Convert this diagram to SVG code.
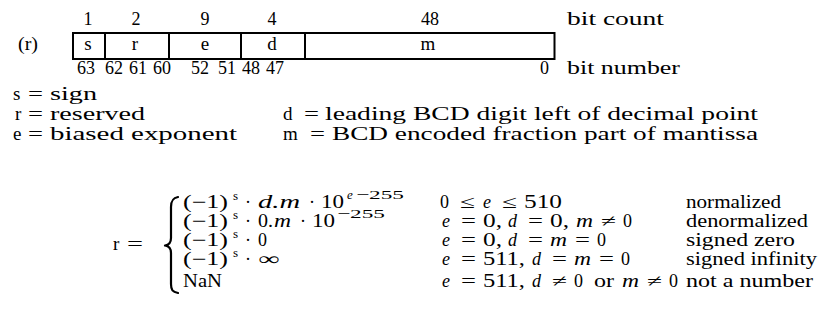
<svg xmlns="http://www.w3.org/2000/svg" width="820" height="324" viewBox="0 0 820 324">
<style>
text { font-family: "Liberation Serif", "Times New Roman", serif; font-size: 19px; fill: #000; }
.n { font-size: 18px; }
.f { font-size: 18px; }
.c { text-anchor: middle; }
.i { font-style: italic; }
.sup { font-size: 13px; }
.box { fill: none; stroke: #000; stroke-width: 2; }
.brace { fill: none; stroke: #000; stroke-width: 2.2; stroke-linecap: round; stroke-linejoin: round; }
</style>
<rect width="820" height="324" fill="#fff"/>

<g id="bitfield">
  <text class="c n" x="88" y="25">1</text>
  <text class="c n" x="136" y="25">2</text>
  <text class="c n" x="205" y="25">9</text>
  <text class="c n" x="272" y="25">4</text>
  <text class="c n" x="430" y="25">48</text>
  <text x="567" y="25" textLength="97" lengthAdjust="spacingAndGlyphs">bit count</text>

  <text x="18" y="50" textLength="20" lengthAdjust="spacingAndGlyphs">(r)</text>
  <rect class="box" x="73" y="33" width="481.5" height="26"/>
  <line class="box" x1="105" y1="33" x2="105" y2="59"/>
  <line class="box" x1="169" y1="33" x2="169" y2="59"/>
  <line class="box" x1="241" y1="33" x2="241" y2="59"/>
  <line class="box" x1="305" y1="33" x2="305" y2="59"/>
  <text class="c" x="88" y="50">s</text>
  <text class="c" x="135" y="50">r</text>
  <text class="c" x="205" y="50">e</text>
  <text class="c" x="272" y="50">d</text>
  <text class="c" x="428" y="50">m</text>

  <text class="n" x="77" y="74">63</text>
  <text class="n" x="105" y="74">62</text>
  <text class="n" x="129" y="74">61</text>
  <text class="n" x="153" y="74">60</text>
  <text class="n" x="191" y="74">52</text>
  <text class="n" x="218" y="74">51</text>
  <text class="n" x="242" y="74">48</text>
  <text class="n" x="266" y="74">47</text>
  <text class="n" x="540" y="74">0</text>
  <text x="567" y="74" textLength="113" lengthAdjust="spacingAndGlyphs">bit number</text>
</g>

<g id="legend">
  <text x="13" y="100">s</text>
  <text x="28" y="100" textLength="15" lengthAdjust="spacingAndGlyphs">=</text>
  <text x="50" y="100" textLength="47" lengthAdjust="spacingAndGlyphs">sign</text>

  <text x="15" y="120">r</text>
  <text x="28" y="120" textLength="15" lengthAdjust="spacingAndGlyphs">=</text>
  <text x="50" y="120" textLength="95" lengthAdjust="spacingAndGlyphs">reserved</text>

  <text x="13" y="140">e</text>
  <text x="28" y="140" textLength="15" lengthAdjust="spacingAndGlyphs">=</text>
  <text x="50" y="140" textLength="187" lengthAdjust="spacingAndGlyphs">biased exponent</text>

  <text x="283" y="120">d</text>
  <text x="304" y="120" textLength="15" lengthAdjust="spacingAndGlyphs">=</text>
  <text x="325" y="120" textLength="433" lengthAdjust="spacingAndGlyphs">leading BCD digit left of decimal point</text>

  <text x="283" y="140">m</text>
  <text x="310" y="140" textLength="15" lengthAdjust="spacingAndGlyphs">=</text>
  <text x="332" y="140" textLength="426" lengthAdjust="spacingAndGlyphs">BCD encoded fraction part of mantissa</text>
</g>

<g id="formula">
  <text x="113" y="250">r</text>
  <text x="127" y="250" textLength="16" lengthAdjust="spacingAndGlyphs">=</text>
  <path class="brace" d="M178,197 C172.5,198 171,201 171,207 L171,238 C171,243 169,245 165,245.5 C169,246 171,248 171,253 L171,284 C171,290 172.5,292 178,293"/>

  <!-- row 1 -->
  <text class="f" x="183" y="208" textLength="45" lengthAdjust="spacingAndGlyphs">(−1)</text>
  <text class="sup" x="233" y="200">s</text>
  <text class="f" x="245" y="208">·</text>
  <text class="f i" x="258" y="208" textLength="42" lengthAdjust="spacingAndGlyphs">d.m</text>
  <text class="f" x="309" y="208">·</text>
  <text class="f" x="321" y="208" textLength="23" lengthAdjust="spacingAndGlyphs">10</text>
  <text class="sup i" x="347" y="199">e</text>
  <text class="sup" x="356" y="199" textLength="48" lengthAdjust="spacingAndGlyphs">−255</text>
  <text class="f" x="440" y="208">0</text>
  <text class="f" x="460" y="208" textLength="15" lengthAdjust="spacingAndGlyphs">≤</text>
  <text class="f i" x="483" y="208">e</text>
  <text class="f" x="502" y="208" textLength="15" lengthAdjust="spacingAndGlyphs">≤</text>
  <text class="f" x="524" y="208" textLength="38" lengthAdjust="spacingAndGlyphs">510</text>
  <text x="686" y="208" textLength="95" lengthAdjust="spacingAndGlyphs">normalized</text>

  <!-- row 2 -->
  <text class="f" x="183" y="227" textLength="45" lengthAdjust="spacingAndGlyphs">(−1)</text>
  <text class="sup" x="233" y="219">s</text>
  <text class="f" x="245" y="227">·</text>
  <text class="f" x="258" y="227" textLength="15" lengthAdjust="spacingAndGlyphs">0.</text>
  <text class="f i" x="274" y="227" textLength="17" lengthAdjust="spacingAndGlyphs">m</text>
  <text class="f" x="300" y="227">·</text>
  <text class="f" x="312" y="227" textLength="23" lengthAdjust="spacingAndGlyphs">10</text>
  <text class="sup" x="337" y="218" textLength="48" lengthAdjust="spacingAndGlyphs">−255</text>
  <text class="f i" x="442" y="227">e</text>
  <text class="f" x="461" y="227" textLength="15" lengthAdjust="spacingAndGlyphs">=</text>
  <text class="f" x="483" y="227" textLength="19" lengthAdjust="spacingAndGlyphs">0,</text>
  <text class="f i" x="508" y="227">d</text>
  <text class="f" x="528" y="227" textLength="15" lengthAdjust="spacingAndGlyphs">=</text>
  <text class="f" x="550" y="227" textLength="19" lengthAdjust="spacingAndGlyphs">0,</text>
  <text class="f i" x="576" y="227" textLength="17" lengthAdjust="spacingAndGlyphs">m</text>
  <text class="f" x="601" y="227" textLength="15" lengthAdjust="spacingAndGlyphs">≠</text>
  <text class="f" x="623" y="227">0</text>
  <text x="686" y="227" textLength="122" lengthAdjust="spacingAndGlyphs">denormalized</text>

  <!-- row 3 -->
  <text class="f" x="183" y="246" textLength="45" lengthAdjust="spacingAndGlyphs">(−1)</text>
  <text class="sup" x="233" y="238">s</text>
  <text class="f" x="245" y="246">·</text>
  <text class="f" x="258" y="246">0</text>
  <text class="f i" x="442" y="246">e</text>
  <text class="f" x="461" y="246" textLength="15" lengthAdjust="spacingAndGlyphs">=</text>
  <text class="f" x="483" y="246" textLength="19" lengthAdjust="spacingAndGlyphs">0,</text>
  <text class="f i" x="508" y="246">d</text>
  <text class="f" x="528" y="246" textLength="15" lengthAdjust="spacingAndGlyphs">=</text>
  <text class="f i" x="550" y="246" textLength="17" lengthAdjust="spacingAndGlyphs">m</text>
  <text class="f" x="575" y="246" textLength="15" lengthAdjust="spacingAndGlyphs">=</text>
  <text class="f" x="597" y="246">0</text>
  <text x="686" y="246" textLength="109" lengthAdjust="spacingAndGlyphs">signed zero</text>

  <!-- row 4 -->
  <text class="f" x="183" y="265" textLength="45" lengthAdjust="spacingAndGlyphs">(−1)</text>
  <text class="sup" x="233" y="257">s</text>
  <text class="f" x="245" y="265">·</text>
  <text class="f" x="258" y="265" textLength="21" lengthAdjust="spacingAndGlyphs">∞</text>
  <text class="f i" x="442" y="265">e</text>
  <text class="f" x="461" y="265" textLength="15" lengthAdjust="spacingAndGlyphs">=</text>
  <text class="f" x="483" y="265" textLength="42" lengthAdjust="spacingAndGlyphs">511,</text>
  <text class="f i" x="532" y="265">d</text>
  <text class="f" x="552" y="265" textLength="15" lengthAdjust="spacingAndGlyphs">=</text>
  <text class="f i" x="574" y="265" textLength="17" lengthAdjust="spacingAndGlyphs">m</text>
  <text class="f" x="599" y="265" textLength="15" lengthAdjust="spacingAndGlyphs">=</text>
  <text class="f" x="621" y="265">0</text>
  <text x="686" y="265" textLength="131" lengthAdjust="spacingAndGlyphs">signed infinity</text>

  <!-- row 5 -->
  <text class="f" x="183" y="287" textLength="39" lengthAdjust="spacingAndGlyphs">NaN</text>
  <text class="f i" x="442" y="287">e</text>
  <text class="f" x="461" y="287" textLength="15" lengthAdjust="spacingAndGlyphs">=</text>
  <text class="f" x="483" y="287" textLength="42" lengthAdjust="spacingAndGlyphs">511,</text>
  <text class="f i" x="532" y="287">d</text>
  <text class="f" x="552" y="287" textLength="15" lengthAdjust="spacingAndGlyphs">≠</text>
  <text class="f" x="574" y="287">0</text>
  <text class="f" x="594" y="287" textLength="20" lengthAdjust="spacingAndGlyphs">or</text>
  <text class="f i" x="622" y="287" textLength="17" lengthAdjust="spacingAndGlyphs">m</text>
  <text class="f" x="647" y="287" textLength="15" lengthAdjust="spacingAndGlyphs">≠</text>
  <text class="f" x="669" y="287">0</text>
  <text x="686" y="287" textLength="127" lengthAdjust="spacingAndGlyphs">not a number</text>
</g>
</svg>
